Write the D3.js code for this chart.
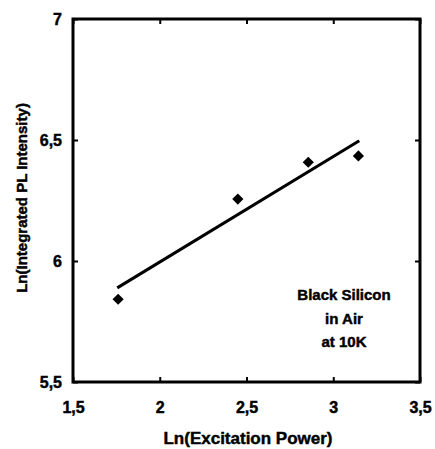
<!DOCTYPE html>
<html><head><meta charset="utf-8">
<script src="https://cdn.jsdelivr.net/npm/d3@7"></script>
<style>html,body{margin:0;padding:0;background:#fff;}svg{display:block;font-family:"Liberation Sans",Arial,sans-serif;font-weight:bold;}
text{stroke:#000;stroke-width:0.45px;fill:#000;}</style>
</head><body>
<script>
const excitation = [1.76, 2.45, 2.856, 3.145];
const intensity = [5.842, 6.256, 6.408, 6.434];
const fitX = [1.755, 3.15];
const fitY = [5.889, 6.497];
const xTicks = [1.5, 2, 2.5, 3, 3.5];
const yTicks = [5.5, 6, 6.5, 7];
const xTickLabels = ["1,5", "2", "2,5", "3", "3,5"];
const yTickLabels = ["5,5", "6", "6,5", "7"];
const annotation = ["Black Silicon", "in Air", "at 10K"];

const W = 435, H = 449;
const L = 73, R = 420, T = 19, B = 382;
const svg = d3.select("body").append("svg").attr("width", W).attr("height", H);
const x = d3.scaleLinear().domain([1.5, 3.5]).range([L, R]);
const y = d3.scaleLinear().domain([5.5, 7]).range([B, T]);

const fmt = (arr, ticks) => d => arr[ticks.indexOf(d)];
const tl = 5;
const axes = [
  d3.axisBottom(x).tickValues(xTicks).tickSize(-tl).tickFormat(fmt(xTickLabels, xTicks)),
  d3.axisLeft(y).tickValues(yTicks).tickSize(-tl).tickFormat(fmt(yTickLabels, yTicks)),
  d3.axisTop(x).tickValues(xTicks).tickSize(-tl).tickFormat(""),
  d3.axisRight(y).tickValues(yTicks).tickSize(-tl).tickFormat("")
];
const tr = [`translate(0,${B})`, `translate(${L},0)`, `translate(0,${T})`, `translate(${R},0)`];
axes.forEach((a, i) => {
  const g = svg.append("g").attr("transform", tr[i]).call(a);
  g.select(".domain").remove();
  g.selectAll(".tick line").attr("stroke", "#000").attr("stroke-width", 2);
  g.selectAll(".tick text").attr("fill", "#000").attr("font-size", 16).attr("font-weight", "bold");
  if (i === 0) g.selectAll(".tick text").attr("dy", "0").attr("y", 31);
  if (i === 1) g.selectAll(".tick text").attr("x", -11).attr("dy", "0.35em");
});
svg.append("rect").attr("x", L).attr("y", T).attr("width", R - L).attr("height", B - T)
  .attr("fill", "none").attr("stroke", "#000").attr("stroke-width", 3);

svg.append("line")
  .attr("x1", x(fitX[0])).attr("y1", y(fitY[0]))
  .attr("x2", x(fitX[1])).attr("y2", y(fitY[1]))
  .attr("stroke", "#000").attr("stroke-width", 3);

svg.selectAll(".pt").data(excitation).enter().append("path")
  .attr("transform", (d, i) => `translate(${x(d)},${y(intensity[i])})`)
  .attr("d", d3.symbol().type(d3.symbolDiamond2).size(80))
  .attr("fill", "#000");

svg.append("text").attr("x", 248).attr("y", 444).attr("text-anchor", "middle")
  .attr("font-size", 17).text("Ln(Excitation Power)");
svg.append("text").attr("transform", `translate(27,198) rotate(-90)`)
  .attr("text-anchor", "middle").attr("font-size", 15).text("Ln(Integrated PL Intensity)");

svg.selectAll(".ann").data(annotation).enter().append("text")
  .attr("x", 344).attr("y", (d, i) => 300 + i * 23.5).attr("text-anchor", "middle")
  .attr("font-size", 15).text(d => d);
</script>
</body></html>
